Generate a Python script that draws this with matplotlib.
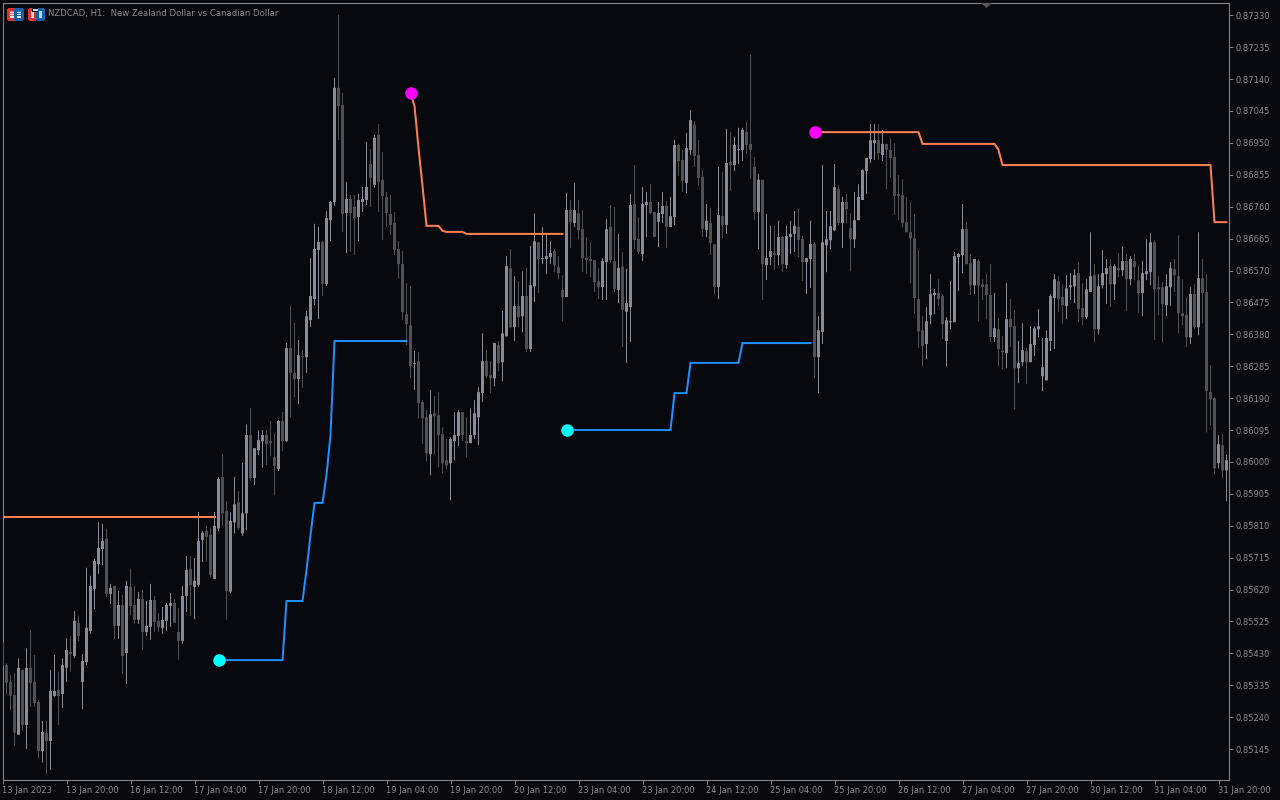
#!/usr/bin/env python3
"""NZDCAD H1 candles with support / resistance step lines, dark terminal style."""

import matplotlib
matplotlib.use('Agg')
import matplotlib.pyplot as plt
import matplotlib.patches as patches
import numpy as np

POINT = 1e-5

# prices in points
highs = [
    85463,85400,85366,85371,85415,85381,85445,85500,85425,85291,
    85229,85229,85381,85425,85375,85415,85475,85482,85556,85541,
    85428,85685,85661,85711,85821,85816,85801,85637,85631,85616,
    85604,85646,85682,85631,85613,85619,85586,85637,85601,85550,
    85568,85580,85610,85592,85565,85631,85720,85720,85714,85851,
    85795,85810,85804,85851,85955,86023,85883,85850,85955,85913,
    85999,86112,86160,86041,86094,86095,86095,86122,86083,86125,
    86149,86354,86464,86414,86363,86333,86449,86607,86709,86700,
    86658,86747,86777,87144,87331,87099,86834,86795,86795,86798,
    86819,86953,86932,86974,87006,86923,86804,86795,86744,86658,
    86628,86532,86523,86330,86327,86184,86154,86214,86196,86208,
    86103,86068,86074,86148,86154,86148,86133,86160,86184,86223,
    86383,86333,86300,86354,86360,86449,86613,86634,86553,86538,
    86568,86577,86643,86740,86654,86699,86678,86657,86634,86613,
    86556,86800,86780,86830,86780,86750,86669,86654,86601,86577,
    86607,86723,86765,86759,86679,86625,86575,86798,86884,86729,
    86819,86804,86828,86744,86774,86804,86777,86789,86959,86947,
    86929,86980,87048,87015,86959,86869,86768,86756,86648,86878,
    86864,86992,86983,86968,86995,86995,87012,87213,86908,86858,
    86840,86738,86703,86703,86718,86673,86703,86718,86747,86753,
    86673,86607,86718,86655,86434,86884,86747,86747,86887,86824,
    86789,86798,86741,86804,86827,86872,86905,87006,87006,87006,
    86988,86947,86964,86949,86854,86842,86789,86774,86738,86631,
    86434,86461,86559,86515,86544,86500,86431,86538,86625,86622,
    86768,86714,86619,86604,86604,86544,86559,86589,86503,86428,
    86375,86533,86485,86452,86360,86413,86339,86404,86404,86455,
    86369,86392,86500,86559,86553,86529,86556,86562,86574,86595,
    86532,86544,86684,86589,86559,86631,86604,86604,86589,86622,
    86642,86619,86613,86619,86583,86598,86663,86681,86660,86553,
    86535,86559,86595,86604,86675,86544,86488,86520,86529,86684,
    86604,86559,86288,86193,86080,86083,86022,
]
lows = [
    85393,85309,85261,85154,85188,85199,85146,85271,85271,85118,
    85105,85071,85083,85301,85217,85267,85345,85375,85416,85467,
    85264,85395,85488,85562,85667,85693,85598,85577,85473,85473,
    85369,85339,85544,85518,85518,85440,85482,85470,85494,85494,
    85488,85497,85509,85521,85411,85458,85553,85541,85532,85628,
    85702,85702,85655,85652,85794,85809,85530,85609,85787,85797,
    85780,85797,85943,85931,86020,85983,85991,86017,85901,85973,
    86032,86059,86133,86193,86172,86220,86265,86402,86467,86425,
    86494,86524,86658,86762,86959,86685,86622,86625,86616,86658,
    86744,86765,86759,86816,86744,86661,86700,86676,86616,86545,
    86422,86348,86249,86214,86130,86053,86002,85960,86023,85984,
    85966,85978,85886,86005,86047,86062,86014,86056,86068,86050,
    86178,86249,86205,86225,86270,86240,86374,86398,86360,86401,
    86386,86327,86327,86476,86503,86589,86559,86589,86565,86544,
    86419,86491,86637,86699,86663,86565,86559,86550,86506,86485,
    86482,86482,86592,86506,86473,86342,86295,86357,86634,86619,
    86598,86670,86738,86670,86640,86712,86637,86700,86706,86852,
    86804,86801,86914,86878,86822,86670,86670,86616,86500,86485,
    86667,86679,86807,86866,86887,86896,86917,86843,86721,86634,
    86482,86542,86586,86572,86586,86566,86575,86619,86625,86610,
    86539,86500,86518,86249,86205,86351,86565,86634,86687,86705,
    86637,86711,86568,86637,86720,86780,86798,86890,86899,86899,
    86896,86812,86845,86735,86720,86699,86684,86532,86440,86339,
    86285,86306,86410,86440,86464,86366,86285,86395,86416,86509,
    86562,86589,86497,86500,86419,86482,86425,86357,86357,86285,
    86276,86279,86342,86157,86234,86285,86232,86297,86315,86371,
    86211,86243,86330,86336,86446,86410,86425,86482,86473,86416,
    86407,86425,86506,86357,86380,86517,86470,86461,86482,86550,
    86553,86449,86526,86541,86443,86434,86541,86526,86363,86437,
    86357,86434,86464,86506,86383,86407,86342,86351,86395,86377,
    86413,86088,86109,85963,85981,85951,85883,
]
opens = [
    85463,85395,85345,85306,85188,85381,85217,85387,85345,85285,
    85139,85193,85169,85303,85321,85309,85387,85434,85422,85521,
    85345,85404,85497,85622,85696,85741,85771,85607,85631,85512,
    85574,85431,85628,85574,85530,85592,85494,85509,85589,85527,
    85506,85527,85571,85580,85494,85467,85601,85681,85628,85634,
    85768,85795,85783,85652,85802,85955,85853,85614,85820,85880,
    85787,85847,86080,85952,86035,86062,86080,86062,86014,85979,
    86122,86062,86339,86265,86247,86315,86312,86422,86485,86631,
    86655,86530,86720,86774,87114,87063,86741,86783,86759,86729,
    86774,86780,86887,86825,86974,86840,86789,86738,86712,86634,
    86589,86440,86407,86291,86300,86178,86133,86023,86145,86139,
    86083,86005,85996,86062,86077,86148,86062,86056,86080,86133,
    86205,86300,86258,86249,86348,86297,86374,86577,86401,86464,
    86434,86494,86336,86523,86654,86604,86604,86610,86628,86580,
    86512,86491,86750,86711,86740,86693,86607,86604,86601,86538,
    86521,86595,86700,86598,86512,86581,86447,86461,86768,86664,
    86619,86765,86774,86744,86715,86738,86762,86700,86729,86944,
    86899,86831,86929,87004,86914,86849,86691,86712,86648,86521,
    86732,86706,86893,86884,86929,86929,86983,86947,86878,86744,
    86840,86586,86610,86622,86616,86670,86586,86670,86679,86700,
    86664,86595,86604,86649,86312,86387,86645,86660,86690,86812,
    86711,86774,86696,86663,86720,86780,86866,86902,86949,86958,
    86914,86947,86929,86908,86798,86795,86714,86684,86666,86485,
    86392,86351,86437,86497,86503,86494,86360,86416,86416,86610,
    86616,86693,86592,86526,86598,86529,86529,86497,86372,86395,
    86330,86324,86425,86404,86279,86297,86330,86297,86348,86395,
    86255,86243,86360,86488,86538,86491,86464,86520,86523,86562,
    86458,86431,86506,86556,86395,86526,86559,86583,86529,86577,
    86571,86598,86544,86598,86541,86503,86559,86565,86654,86520,
    86520,86467,86520,86574,86553,86443,86437,86371,86500,86401,
    86547,86506,86208,86190,85996,86050,85975,
]
closes = [
    85393,85343,85304,85194,85387,85217,85387,85342,85282,85139,
    85196,85169,85318,85318,85303,85395,85440,85428,85527,85482,
    85407,85506,85631,85705,85744,85765,85607,85625,85512,85574,
    85422,85631,85571,85530,85592,85494,85512,85589,85524,85509,
    85530,85574,85580,85521,85467,85601,85678,85634,85646,85765,
    85789,85777,85664,85810,85949,85847,85616,85824,85874,85803,
    85847,86080,85952,86041,86065,86080,86053,86056,85988,86122,
    86062,86339,86265,86247,86318,86312,86434,86494,86634,86655,
    86530,86726,86774,87114,87060,86738,86783,86741,86726,86780,
    86783,86819,86846,86965,86834,86792,86741,86706,86631,86589,
    86446,86410,86285,86294,86175,86130,86026,86142,86136,86080,
    85996,85990,86068,86080,86148,86080,86056,86080,86145,86208,
    86300,86255,86249,86354,86294,86383,86583,86401,86464,86431,
    86494,86336,86526,86657,86604,86607,86613,86622,86586,86562,
    86491,86750,86714,86750,86690,86607,86601,86598,86535,86520,
    86598,86693,86601,86515,86578,86453,86473,86765,86661,86625,
    86768,86774,86741,86670,86741,86762,86700,86732,86944,86896,
    86837,86935,87018,86911,86846,86694,86718,86652,86521,86735,
    86706,86890,86884,86944,86932,86989,86944,86929,86744,86840,
    86589,86607,86628,86616,86670,86589,86673,86679,86703,86661,
    86595,86607,86649,86312,86392,86654,86663,86702,86818,86711,
    86774,86753,86663,86720,86789,86869,86905,86958,86958,86920,
    86947,86929,86905,86792,86792,86711,86684,86666,86488,86389,
    86345,86419,86500,86503,86485,86410,86422,86419,86613,86619,
    86693,86589,86526,86604,86526,86521,86497,86372,86398,86336,
    86327,86425,86401,86279,86294,86333,86297,86351,86398,86404,
    86282,86369,86494,86544,86485,86467,86517,86526,86556,86455,
    86431,86514,86553,86395,86523,86562,86577,86529,86583,86571,
    86598,86544,86604,86580,86503,86562,86568,86654,86514,86514,
    86470,86523,86577,86556,86443,86434,86371,86500,86401,86547,
    86503,86211,86187,85981,86053,85975,86005,
]

# indicator levels: bar index / price in points
resist_a_bars = [0, 53]
resist_a = [85836, 85836]
support_a_bars = [54, 70, 71, 75, 76, 77, 78, 80, 81, 82, 83, 101]
support_a = [85410, 85410, 85586, 85586, 85678, 85782, 85878, 85878, 85961, 86080, 86360, 86360]
resist_b_bars = [102, 103, 104, 105, 106, 109, 110, 111, 115, 116, 140]
resist_b = [87099, 87060, 86935, 86822, 86703, 86703, 86688, 86685, 86685, 86679, 86679]
support_b_bars = [141, 167, 168, 171, 172, 184, 185, 202]
support_b = [86095, 86095, 86205, 86205, 86295, 86295, 86354, 86354]
resist_c_bars = [203, 229, 230, 248, 249, 250, 302, 303, 306]
resist_c = [86982, 86982, 86947, 86947, 86929, 86884, 86884, 86714, 86714]

price_ticks = [87330, 87235, 87140, 87045, 86950, 86855, 86760, 86665, 86570, 86475, 86380, 86285,
               86190, 86095, 86000, 85905, 85810, 85715, 85620, 85525, 85430, 85335, 85240, 85145]
time_tick_bars = list(range(0, 306, 16))
time_labels = ['13 Jan 2023', '13 Jan 20:00', '16 Jan 12:00', '17 Jan 04:00', '17 Jan 20:00',
               '18 Jan 12:00', '19 Jan 04:00', '19 Jan 20:00', '20 Jan 12:00', '23 Jan 04:00',
               '23 Jan 20:00', '24 Jan 12:00', '25 Jan 04:00', '25 Jan 20:00', '26 Jan 12:00',
               '27 Jan 04:00', '27 Jan 20:00', '30 Jan 12:00', '31 Jan 04:00', '31 Jan 20:00']

BG = '#08090e'
FRAME = '#83838a'
TEXT = '#8c8c93'
BULL = '#8b8b98'
BEAR = '#505055'
ORANGE = '#ff7f50'
BLUE = '#1e90ff'

plt.rcParams['font.family'] = ['DejaVu Sans']

fig = plt.figure(figsize=(12.8, 8), dpi=100, facecolor=BG)
ax = fig.add_axes([2.5 / 1280, 20 / 800, 1226.5 / 1280, 777.5 / 800], facecolor=BG)

o = np.array(opens) * POINT
c = np.array(closes) * POINT
h = np.array(highs) * POINT
l = np.array(lows) * POINT
bars = np.arange(len(o))
up = c >= o
colors = np.where(up, BULL, BEAR)

# candles, 4 px per bar with a 1 px wick and a 3 px body; the axes line up with the
# pixel grid so snapping is off
wicks = ax.vlines(bars, l, h, colors=colors, linewidth=0.72, zorder=2)
wicks.set_snap(False)
ax.bar(bars, np.maximum(np.abs(c - o), POINT * 3), bottom=np.minimum(o, c), width=0.75,
       color=colors, linewidth=0, snap=False, zorder=3)

# step lines and start dots
for b, v, col in [(resist_a_bars, resist_a, ORANGE), (support_a_bars, support_a, BLUE),
                  (resist_b_bars, resist_b, ORANGE), (support_b_bars, support_b, BLUE),
                  (resist_c_bars, resist_c, ORANGE)]:
    ax.plot(b, np.array(v) * POINT, color=col, linewidth=1.44, solid_joinstyle='miter', zorder=4)

for b, v, col in [(support_a_bars, support_a, '#00ffff'), (resist_b_bars, resist_b, '#ff00ff'),
                  (support_b_bars, support_b, '#00ffff'), (resist_c_bars, resist_c, '#ff00ff')]:
    ax.plot(b[0] + 0.15, v[0] * POINT, 'o', color=col, markersize=9, markeredgewidth=0, zorder=5)

ax.set_xlim(0, 306.625)
ax.set_ylim(85053 * POINT, 87368 * POINT)

ax.yaxis.tick_right()
ax.set_yticks(np.array(price_ticks) * POINT)
ax.set_yticklabels([f'{p * POINT:.5f}' for p in price_ticks])
ax.set_xticks(time_tick_bars)
ax.set_xticklabels(time_labels, ha='left')
ax.tick_params(axis='y', colors=TEXT, length=3, width=0.72, labelsize=6.0, pad=1.5, color=FRAME)
ax.tick_params(axis='x', colors=TEXT, length=3, width=0.72, labelsize=6.0, pad=1.2, color=FRAME)
for side in ax.spines.values():
    side.set_color(FRAME)
    side.set_linewidth(0.8)

# overlay in screen pixels for the title row and terminal icons
top = fig.add_axes([0, 0, 1, 1], facecolor='none')
top.set_xlim(0, 1280)
top.set_ylim(800, 0)
top.axis('off')


def box(x, y, w, h, face, edge='none'):
    top.add_patch(patches.Rectangle((x, y), w, h, facecolor=face, edgecolor=edge,
                                    linewidth=0.8, antialiased=False))


# table icon
box(7.5, 8.5, 7, 10, '#ffffff', '#e03030')
box(14.5, 8.5, 7, 10, '#ffffff', '#1060b0')
for yy in (11, 13, 15):
    box(9, yy, 4.5, 1, '#e8605a')
    box(16, yy, 4.5, 1, '#1060b0')
# save icon
box(28.5, 8.5, 6.5, 10, '#ffd0c8', '#e03030')
box(36.5, 8.5, 6.5, 10, '#a8d8f8', '#1060b0')
box(32, 8, 6, 4, BG)
box(33, 8.5, 5, 2, '#d0d0d0')

top.text(48, 13.5, 'NZDCAD, H1:  New Zealand Dollar vs Canadian Dollar', color=TEXT,
         fontsize=6.1, ha='left', va='center')
# shift marker at the top of the chart
top.add_patch(patches.Polygon([[981, 3], [992, 3], [986.5, 8]], closed=True, facecolor='#55555a',
                              edgecolor='none'))

fig.savefig('out.png', dpi=100, facecolor=BG)
